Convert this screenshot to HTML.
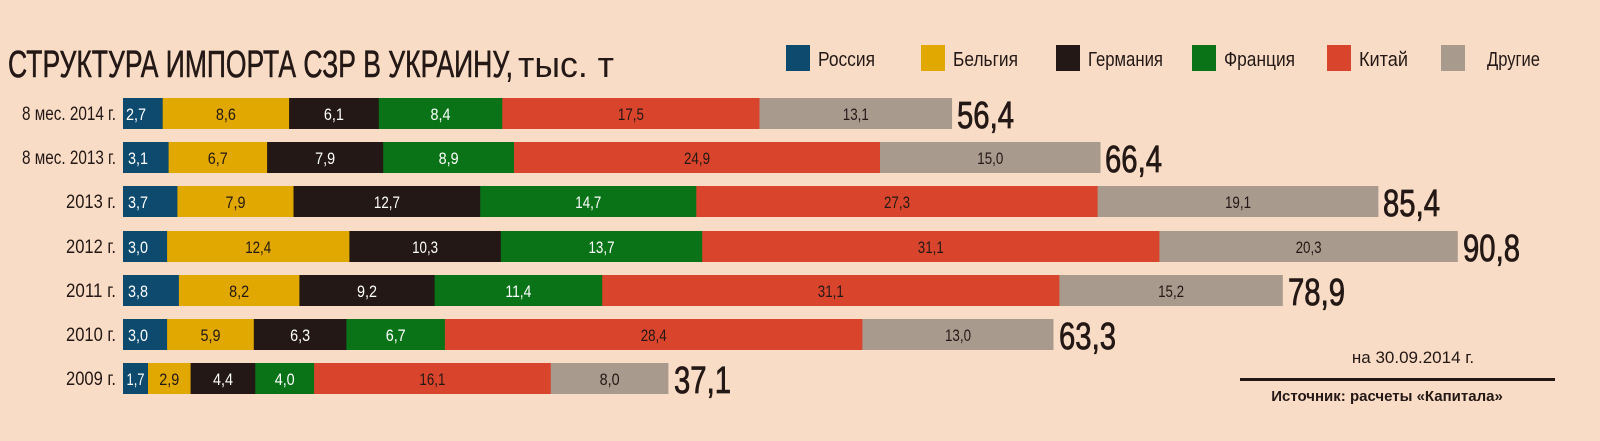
<!DOCTYPE html>
<html><head><meta charset="utf-8"><style>
html,body{margin:0;padding:0;background:#f9dcc6;}
svg{display:block;}
text{font-family:"Liberation Sans",sans-serif;}
</style></head><body>
<svg width="1600" height="441" viewBox="0 0 1600 441" xmlns="http://www.w3.org/2000/svg">
<rect width="1600" height="441" fill="#f9dcc6"/>
<text x="8" y="77" font-size="38" fill="#231815" textLength="505" lengthAdjust="spacingAndGlyphs" stroke="#231815" stroke-width="0.6">СТРУКТУРА ИМПОРТА СЗР В УКРАИНУ,</text>
<text x="518" y="77" font-size="36" fill="#231815" textLength="96" lengthAdjust="spacingAndGlyphs">тыс. т</text>
<g font-size="20" fill="#231815">
<rect x="786" y="45" width="24" height="26" fill="#0d4a6e"/><text x="818" y="66" textLength="57" lengthAdjust="spacingAndGlyphs">Россия</text>
<rect x="921" y="45" width="24" height="26" fill="#e0a800"/><text x="953" y="66" textLength="65" lengthAdjust="spacingAndGlyphs">Бельгия</text>
<rect x="1056" y="45" width="24" height="26" fill="#231815"/><text x="1088" y="66" textLength="75" lengthAdjust="spacingAndGlyphs">Германия</text>
<rect x="1192" y="45" width="24" height="26" fill="#0a7318"/><text x="1224" y="66" textLength="71" lengthAdjust="spacingAndGlyphs">Франция</text>
<rect x="1327" y="45" width="24" height="26" fill="#d8452c"/><text x="1359" y="66" textLength="49" lengthAdjust="spacingAndGlyphs">Китай</text>
<rect x="1441" y="45" width="24" height="26" fill="#a99a8e"/><text x="1487" y="66" textLength="53" lengthAdjust="spacingAndGlyphs">Другие</text>
</g>

<g font-size="19" fill="#231815" text-anchor="end">
<text x="116" y="120" textLength="94" lengthAdjust="spacingAndGlyphs">8 мес. 2014 г.</text>
<text x="116" y="164" textLength="94" lengthAdjust="spacingAndGlyphs">8 мес. 2013 г.</text>
<text x="116" y="208" textLength="50" lengthAdjust="spacingAndGlyphs">2013 г.</text>
<text x="116" y="253" textLength="50" lengthAdjust="spacingAndGlyphs">2012 г.</text>
<text x="116" y="297" textLength="50" lengthAdjust="spacingAndGlyphs">2011 г.</text>
<text x="116" y="341" textLength="50" lengthAdjust="spacingAndGlyphs">2010 г.</text>
<text x="116" y="385" textLength="50" lengthAdjust="spacingAndGlyphs">2009 г.</text>
</g>

<g>
<rect x="123" y="98" width="40" height="31" fill="#0d4a6e"/><rect x="162.7" y="98" width="127" height="31" fill="#e0a800"/><rect x="289.1" y="98" width="90" height="31" fill="#231815"/><rect x="378.8" y="98" width="124" height="31" fill="#0a7318"/><rect x="502.3" y="98" width="257.7" height="31" fill="#d8452c"/><rect x="759.5" y="98" width="192.6" height="31" fill="#a99a8e"/>
<rect x="123" y="142" width="46" height="31" fill="#0d4a6e"/><rect x="168.6" y="142" width="99" height="31" fill="#e0a800"/><rect x="267.1" y="142" width="116.6" height="31" fill="#231815"/><rect x="383.2" y="142" width="131.3" height="31" fill="#0a7318"/><rect x="514" y="142" width="366.5" height="31" fill="#d8452c"/><rect x="880" y="142" width="220.5" height="31" fill="#a99a8e"/>
<rect x="123" y="186" width="55" height="31" fill="#0d4a6e"/><rect x="177.4" y="186" width="116.6" height="31" fill="#e0a800"/><rect x="293.5" y="186" width="187.2" height="31" fill="#231815"/><rect x="480.2" y="186" width="216.6" height="31" fill="#0a7318"/><rect x="696.3" y="186" width="401.8" height="31" fill="#d8452c"/><rect x="1097.6" y="186" width="280.8" height="31" fill="#a99a8e"/>
<rect x="123" y="231" width="44.6" height="31" fill="#0d4a6e"/><rect x="167.1" y="231" width="182.8" height="31" fill="#e0a800"/><rect x="349.4" y="231" width="151.9" height="31" fill="#231815"/><rect x="500.8" y="231" width="201.9" height="31" fill="#0a7318"/><rect x="702.2" y="231" width="457.7" height="31" fill="#d8452c"/><rect x="1159.4" y="231" width="298.4" height="31" fill="#a99a8e"/>
<rect x="123" y="275" width="56.4" height="31" fill="#0d4a6e"/><rect x="178.9" y="275" width="121" height="31" fill="#e0a800"/><rect x="299.4" y="275" width="135.7" height="31" fill="#231815"/><rect x="434.6" y="275" width="168.1" height="31" fill="#0a7318"/><rect x="602.2" y="275" width="457.7" height="31" fill="#d8452c"/><rect x="1059.4" y="275" width="223.4" height="31" fill="#a99a8e"/>
<rect x="123" y="319" width="44.6" height="31" fill="#0d4a6e"/><rect x="167.1" y="319" width="87.2" height="31" fill="#e0a800"/><rect x="253.8" y="319" width="93.1" height="31" fill="#231815"/><rect x="346.4" y="319" width="99" height="31" fill="#0a7318"/><rect x="444.9" y="319" width="418" height="31" fill="#d8452c"/><rect x="862.4" y="319" width="191.1" height="31" fill="#a99a8e"/>
<rect x="123" y="363" width="25.5" height="31" fill="#0d4a6e"/><rect x="148" y="363" width="43.1" height="31" fill="#e0a800"/><rect x="190.6" y="363" width="65.2" height="31" fill="#231815"/><rect x="255.3" y="363" width="59.3" height="31" fill="#0a7318"/><rect x="314.1" y="363" width="237.2" height="31" fill="#d8452c"/><rect x="550.8" y="363" width="117.6" height="31" fill="#a99a8e"/>
</g>

<g font-size="17" text-anchor="middle">
<g transform="translate(0,120)">
<text x="136" fill="#fff" textLength="20" lengthAdjust="spacingAndGlyphs">2,7</text><text x="225.9" fill="#231815" textLength="20" lengthAdjust="spacingAndGlyphs">8,6</text><text x="333.9" fill="#fff" textLength="20" lengthAdjust="spacingAndGlyphs">6,1</text><text x="440.5" fill="#fff" textLength="20" lengthAdjust="spacingAndGlyphs">8,4</text><text x="630.9" fill="#231815" textLength="26" lengthAdjust="spacingAndGlyphs">17,5</text><text x="855.8" fill="#231815" textLength="26" lengthAdjust="spacingAndGlyphs">13,1</text>
</g>
<g transform="translate(0,164)">
<text x="138" fill="#fff" textLength="20" lengthAdjust="spacingAndGlyphs">3,1</text><text x="217.8" fill="#231815" textLength="20" lengthAdjust="spacingAndGlyphs">6,7</text><text x="325.1" fill="#fff" textLength="20" lengthAdjust="spacingAndGlyphs">7,9</text><text x="448.6" fill="#fff" textLength="20" lengthAdjust="spacingAndGlyphs">8,9</text><text x="697" fill="#231815" textLength="26" lengthAdjust="spacingAndGlyphs">24,9</text><text x="990.3" fill="#231815" textLength="26" lengthAdjust="spacingAndGlyphs">15,0</text>
</g>
<g transform="translate(0,208)">
<text x="138" fill="#fff" textLength="20" lengthAdjust="spacingAndGlyphs">3,7</text><text x="235.5" fill="#231815" textLength="20" lengthAdjust="spacingAndGlyphs">7,9</text><text x="386.9" fill="#fff" textLength="26" lengthAdjust="spacingAndGlyphs">12,7</text><text x="588.3" fill="#fff" textLength="26" lengthAdjust="spacingAndGlyphs">14,7</text><text x="897" fill="#231815" textLength="26" lengthAdjust="spacingAndGlyphs">27,3</text><text x="1238" fill="#231815" textLength="26" lengthAdjust="spacingAndGlyphs">19,1</text>
</g>
<g transform="translate(0,253)">
<text x="138" fill="#fff" textLength="20" lengthAdjust="spacingAndGlyphs">3,0</text><text x="258.2" fill="#231815" textLength="26" lengthAdjust="spacingAndGlyphs">12,4</text><text x="425.1" fill="#fff" textLength="26" lengthAdjust="spacingAndGlyphs">10,3</text><text x="601.5" fill="#fff" textLength="26" lengthAdjust="spacingAndGlyphs">13,7</text><text x="930.8" fill="#231815" textLength="26" lengthAdjust="spacingAndGlyphs">31,1</text><text x="1308.6" fill="#231815" textLength="26" lengthAdjust="spacingAndGlyphs">20,3</text>
</g>
<g transform="translate(0,297)">
<text x="138" fill="#fff" textLength="20" lengthAdjust="spacingAndGlyphs">3,8</text><text x="239.1" fill="#231815" textLength="20" lengthAdjust="spacingAndGlyphs">8,2</text><text x="367" fill="#fff" textLength="20" lengthAdjust="spacingAndGlyphs">9,2</text><text x="518.4" fill="#fff" textLength="26" lengthAdjust="spacingAndGlyphs">11,4</text><text x="830.8" fill="#231815" textLength="26" lengthAdjust="spacingAndGlyphs">31,1</text><text x="1171.1" fill="#231815" textLength="26" lengthAdjust="spacingAndGlyphs">15,2</text>
</g>
<g transform="translate(0,341)">
<text x="138" fill="#fff" textLength="20" lengthAdjust="spacingAndGlyphs">3,0</text><text x="210.5" fill="#231815" textLength="20" lengthAdjust="spacingAndGlyphs">5,9</text><text x="300.1" fill="#fff" textLength="20" lengthAdjust="spacingAndGlyphs">6,3</text><text x="395.7" fill="#fff" textLength="20" lengthAdjust="spacingAndGlyphs">6,7</text><text x="653.7" fill="#231815" textLength="26" lengthAdjust="spacingAndGlyphs">28,4</text><text x="958" fill="#231815" textLength="26" lengthAdjust="spacingAndGlyphs">13,0</text>
</g>
<g transform="translate(0,385)">
<text x="135.5" fill="#fff" textLength="18" lengthAdjust="spacingAndGlyphs">1,7</text><text x="169.3" fill="#231815" textLength="20" lengthAdjust="spacingAndGlyphs">2,9</text><text x="223" fill="#fff" textLength="20" lengthAdjust="spacingAndGlyphs">4,4</text><text x="284.7" fill="#fff" textLength="20" lengthAdjust="spacingAndGlyphs">4,0</text><text x="432.4" fill="#231815" textLength="26" lengthAdjust="spacingAndGlyphs">16,1</text><text x="609.6" fill="#231815" textLength="20" lengthAdjust="spacingAndGlyphs">8,0</text>
</g>
</g>

<g font-size="38" fill="#231815" stroke="#231815" stroke-width="0.8">
<text x="957" y="128" textLength="57" lengthAdjust="spacingAndGlyphs">56,4</text>
<text x="1105" y="172" textLength="57" lengthAdjust="spacingAndGlyphs">66,4</text>
<text x="1383" y="216" textLength="57" lengthAdjust="spacingAndGlyphs">85,4</text>
<text x="1463" y="261" textLength="57" lengthAdjust="spacingAndGlyphs">90,8</text>
<text x="1288" y="305" textLength="57" lengthAdjust="spacingAndGlyphs">78,9</text>
<text x="1059" y="349" textLength="57" lengthAdjust="spacingAndGlyphs">63,3</text>
<text x="674" y="393" textLength="57" lengthAdjust="spacingAndGlyphs">37,1</text>
</g>

<text x="1413" y="363" font-size="17" fill="#231815" text-anchor="middle">на 30.09.2014 г.</text>
<rect x="1240" y="378" width="315" height="3" fill="#231815"/>
<text x="1387" y="401" font-size="15" font-weight="bold" fill="#231815" text-anchor="middle">Источник: расчеты «Капитала»</text>
</svg>
</body></html>
